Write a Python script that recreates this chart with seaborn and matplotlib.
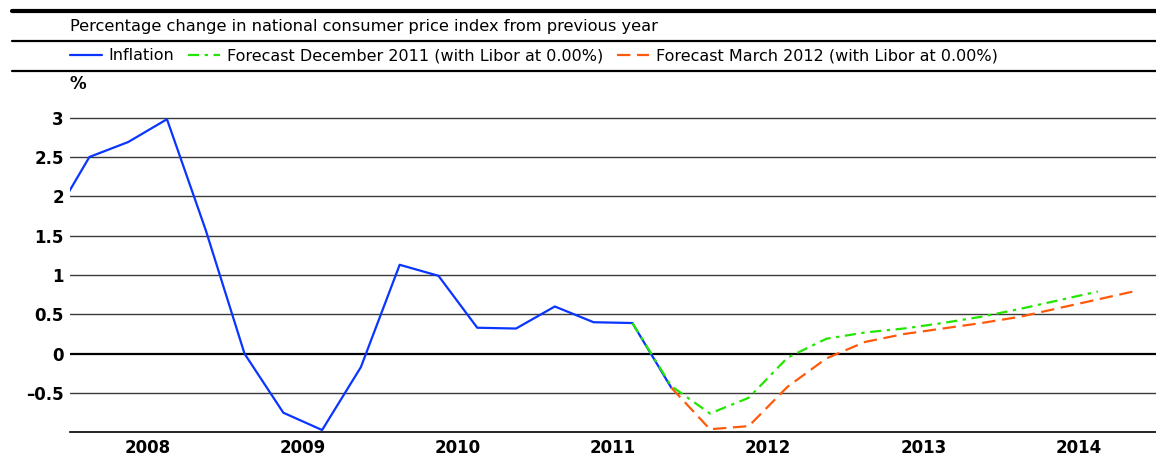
import numpy as np
import pandas as pd
import seaborn as sns
import matplotlib.pyplot as plt
from matplotlib.lines import Line2D

sns.set_style("white")
plt.rcParams['font.family'] = ['DejaVu Sans']
plt.rcParams['text.color'] = 'black'
plt.rcParams['xtick.color'] = 'black'
plt.rcParams['ytick.color'] = 'black'

# quarterly data, year-on-year % change
infl_q = ["2007Q4", "2008Q1", "2008Q2", "2008Q3", "2008Q4", "2009Q1", "2009Q2", "2009Q3", "2009Q4",
          "2010Q1", "2010Q2", "2010Q3", "2010Q4", "2011Q1", "2011Q2", "2011Q3", "2011Q4"]
infl_v = [1.66, 2.50, 2.69, 2.98, 1.57, 0.0, -0.75, -0.97, -0.17,
          1.13, 0.99, 0.33, 0.32, 0.60, 0.40, 0.39, -0.43]

dec_q = ["2011Q3", "2011Q4", "2012Q1", "2012Q2", "2012Q3", "2012Q4", "2013Q1", "2013Q2",
         "2013Q3", "2013Q4", "2014Q1", "2014Q2", "2014Q3"]
dec_v = [0.39, -0.41, -0.76, -0.56, -0.05, 0.19, 0.27, 0.32, 0.39, 0.47, 0.57, 0.68, 0.79]

mar_q = ["2011Q4", "2012Q1", "2012Q2", "2012Q3", "2012Q4", "2013Q1", "2013Q2", "2013Q3",
         "2013Q4", "2014Q1", "2014Q2", "2014Q3", "2014Q4"]
mar_v = [-0.43, -0.96, -0.92, -0.42, -0.06, 0.15, 0.25, 0.32, 0.39, 0.47, 0.58, 0.69, 0.80]

years = [2008, 2009, 2010, 2011, 2012, 2013, 2014]
ytick_vals = [-0.5, 0, 0.5, 1, 1.5, 2, 2.5, 3]
ytick_labels = ["–0.5", "0", "0.5", "1", "1.5", "2", "2.5", "3"]

title = "Percentage change in national consumer price index from previous year"
labels = ["Inflation", "Forecast December 2011 (with Libor at 0.00%)",
          "Forecast March 2012 (with Libor at 0.00%)"]


def mid_quarter(qs):
    p = pd.PeriodIndex(qs, freq="Q")
    return p.year + (p.quarter - 0.5) / 4


df_i = pd.DataFrame({"t": mid_quarter(infl_q), "v": infl_v})
df_d = pd.DataFrame({"t": mid_quarter(dec_q), "v": dec_v})
df_m = pd.DataFrame({"t": mid_quarter(mar_q), "v": mar_v})

W, H = 1156, 459
fig = plt.figure(figsize=(W / 100, H / 100), dpi=100)
ax = fig.add_axes([70 / W, 26.6 / H, (W - 70) / W, 342.3 / H])

# gridlines
for v in ytick_vals:
    if v == 0:
        ax.axhline(0, color="black", lw=1.6, zorder=1)
    else:
        ax.axhline(v, color="#3a3a3a", lw=1.0, zorder=1)

blue, green, orange = "#0a35ff", "#22e600", "#ff5a0a"
sns.lineplot(data=df_i, x="t", y="v", color=blue, lw=1.6, ax=ax, legend=False)
l1 = ax.lines[-1]
sns.lineplot(data=df_d, x="t", y="v", color=green, lw=1.6, ax=ax, legend=False,
             linestyle=(0, (5, 2.5, 1.5, 2.5)))
l2 = ax.lines[-1]
sns.lineplot(data=df_m, x="t", y="v", color=orange, lw=1.6, ax=ax, legend=False,
             linestyle=(0, (6, 3)))
l3 = ax.lines[-1]

ax.set_xlim(2008, 2015)
ax.set_ylim(-1, 3.35)
ax.set_xlabel("")
ax.set_ylabel("")

for s in ["top", "right", "left"]:
    ax.spines[s].set_visible(False)
ax.spines["bottom"].set_linewidth(1.2)
ax.spines["bottom"].set_color("black")

ax.set_yticks(ytick_vals)
ax.set_yticklabels(ytick_labels, fontsize=12, fontweight="bold")
ax.tick_params(axis="y", length=0, pad=4.5)

ax.set_xticks(years + [2015])
ax.set_xticklabels([])
quarters = np.arange(2008.25, 2015, 0.25)
quarters = [q for q in quarters if q % 1 != 0]
ax.set_xticks(quarters, minor=True)
ax.set_xticklabels([str(int(q)) if q % 1 == 0.5 else "" for q in quarters],
                   minor=True, fontsize=12, fontweight="bold")
ax.tick_params(axis="x", which="major", direction="in", length=11, width=1.1, color="black")
ax.tick_params(axis="x", which="minor", direction="in", length=6, width=1.1, color="black", pad=5)
ax.grid(False)

# header rules
for y, lw in [(10.5, 3.0), (41, 1.6), (71, 1.6)]:
    fig.add_artist(Line2D([12 / W, 1], [1 - y / H, 1 - y / H], color="black", lw=lw,
                          transform=fig.transFigure))

fig.text(70 / W, 1 - 26 / H, title, fontsize=11.7, va="center", ha="left")
fig.text(70 / W, 1 - 84 / H, "%", fontsize=12, fontweight="bold", va="center", ha="left")

fig.legend([l1, l2, l3], labels, loc="center left", bbox_to_anchor=(70 / W, 1 - 56 / H),
           ncol=3, frameon=False, fontsize=11.5, handlelength=2.0, handletextpad=0.4,
           columnspacing=0.9, borderpad=0, borderaxespad=0)

fig.savefig("out.png", dpi=100)
